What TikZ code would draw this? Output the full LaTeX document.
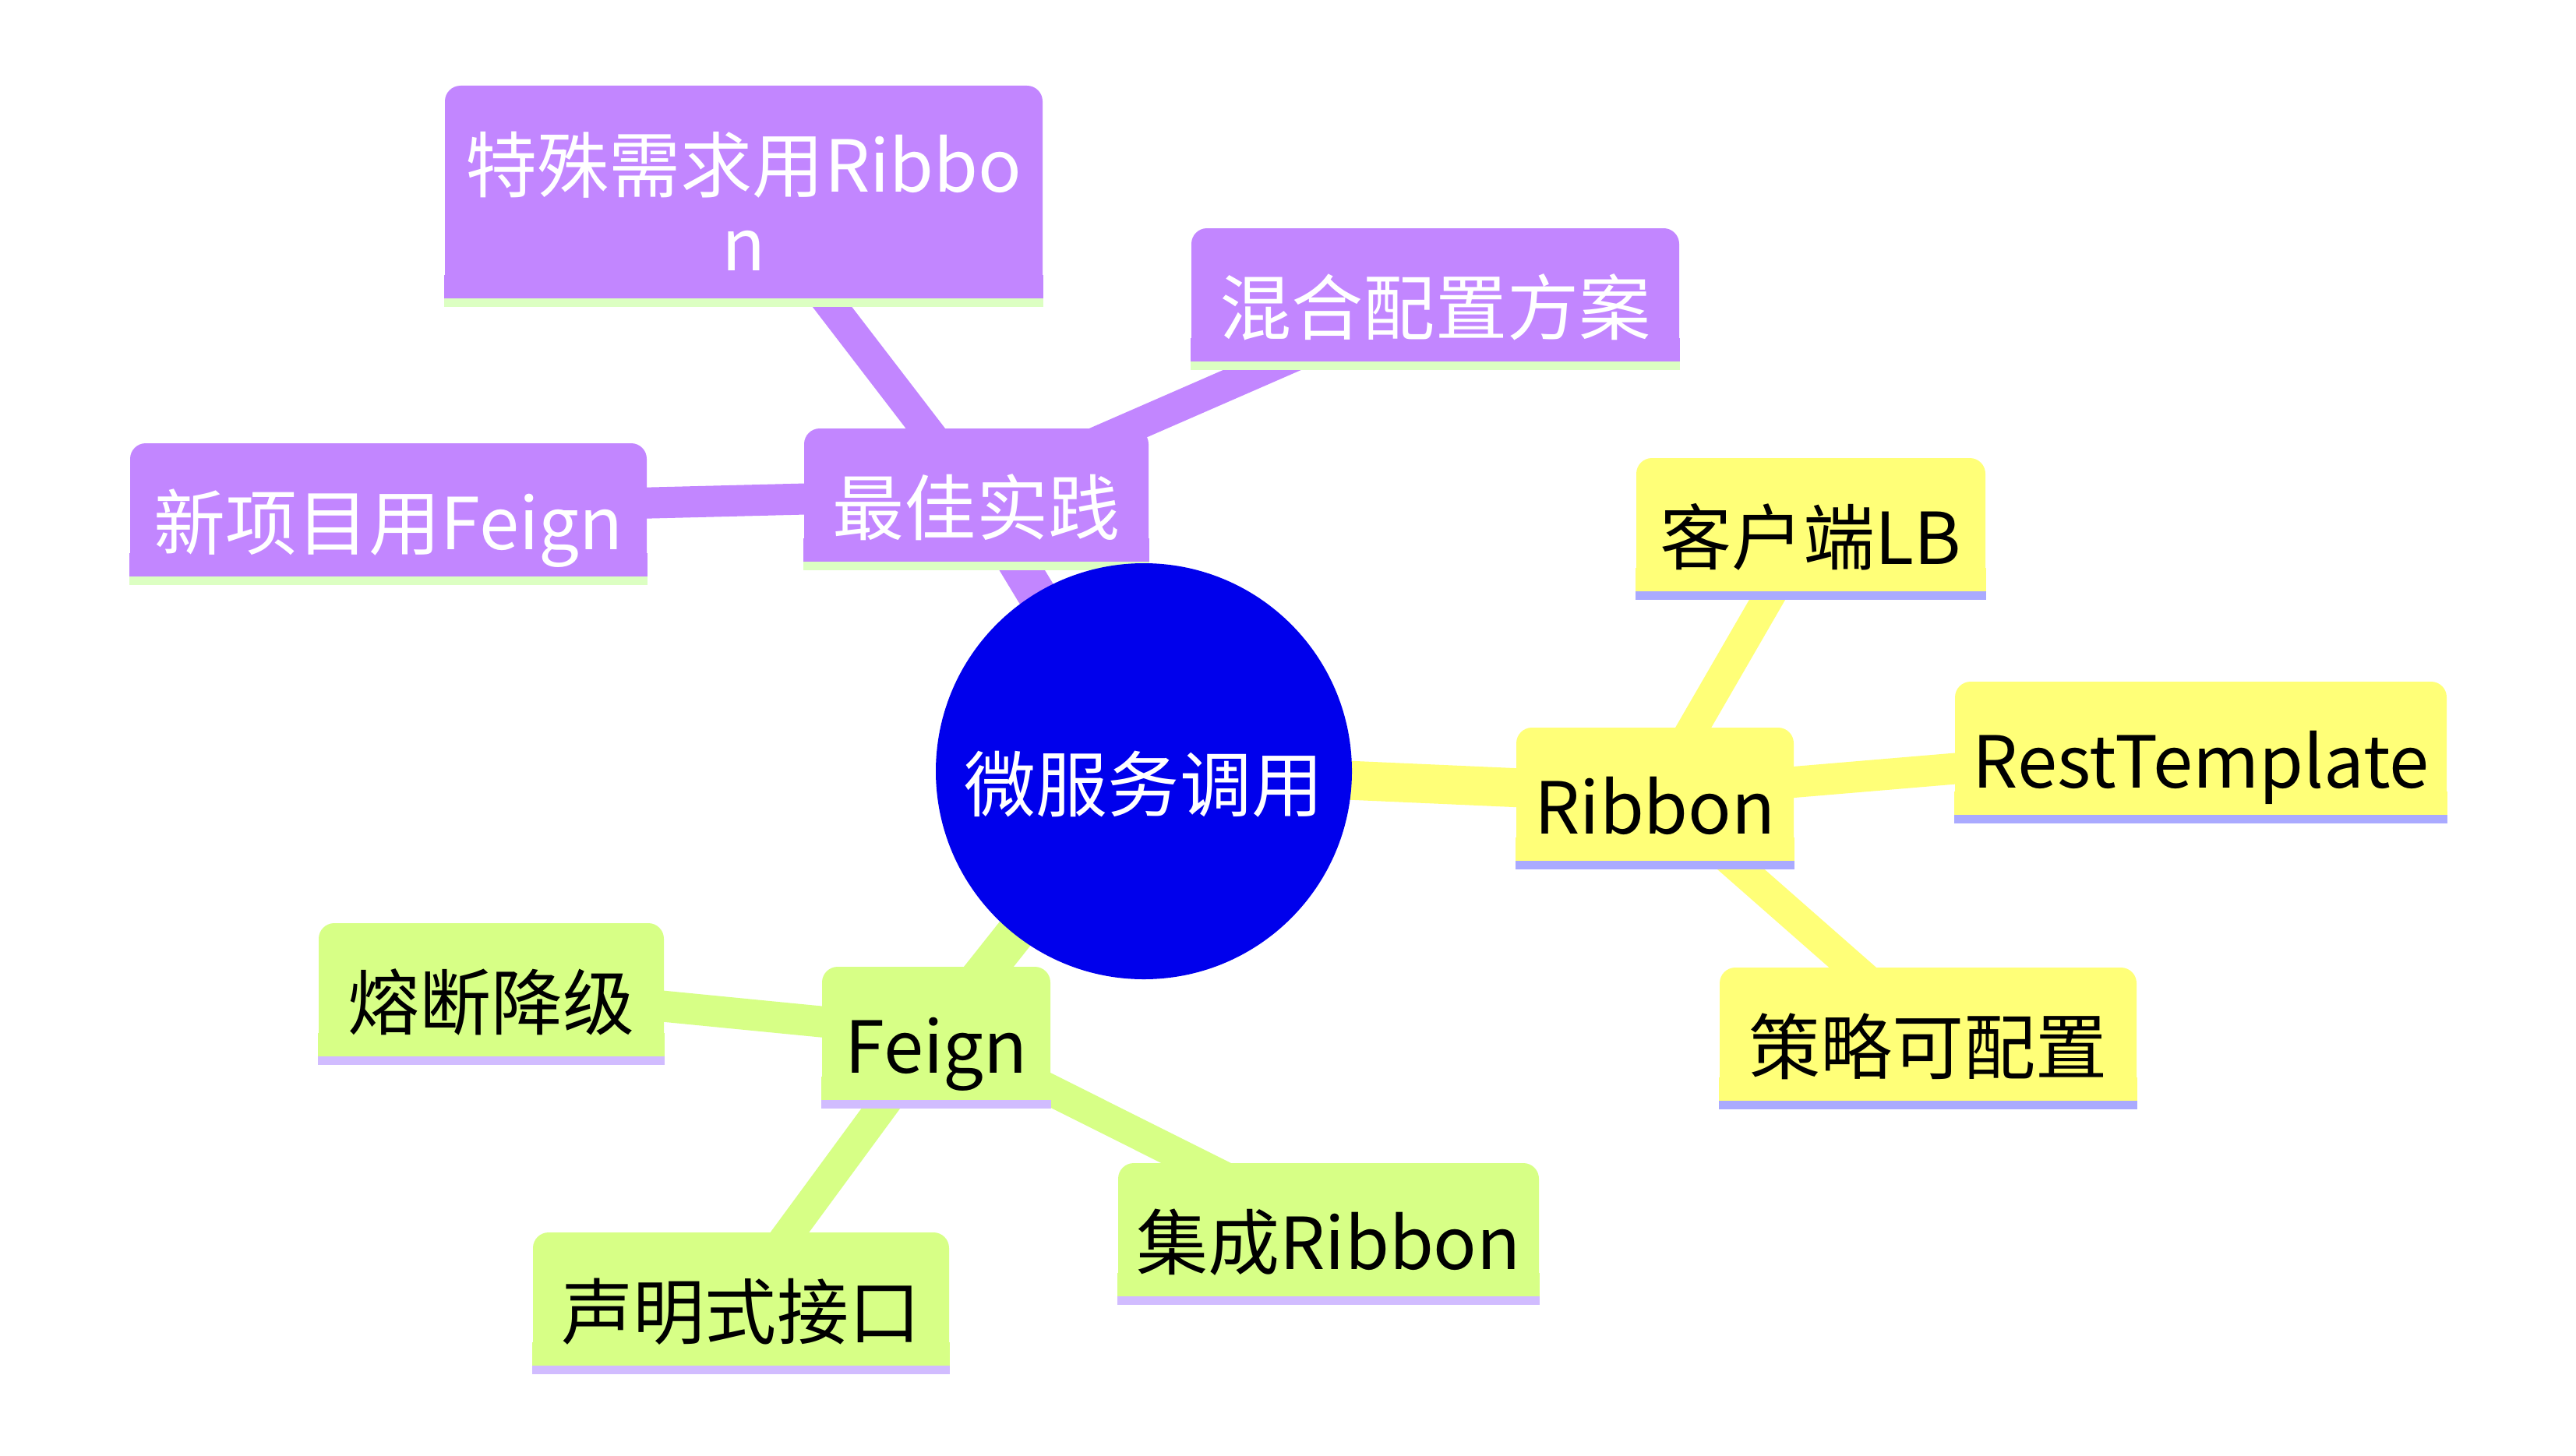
\documentclass[tikz,border=0pt]{standalone}
\usepackage{fontspec}
\setmainfont{Noto Sans CJK SC}
\pgfdeclarelayer{bg}
\pgfdeclarelayer{edges}
\pgfdeclarelayer{under}
\pgfsetlayers{bg,edges,under,main}
\definecolor{cRoot}{HTML}{0000EC}
\definecolor{cPurp}{HTML}{C286FF}
\definecolor{cYel}{HTML}{FFFF78}
\definecolor{cGrn}{HTML}{D7FF86}
\definecolor{uPurp}{HTML}{DCFFC2}
\definecolor{uYel}{HTML}{AAAAFF}
\definecolor{uGrn}{HTML}{D1BCFF}
\tikzset{
  mmfont/.style={font=\fontsize{26.2pt}{28.7pt}\selectfont},
  mmbase/.style={rectangle, rounded corners=0.2cm, inner sep=0pt, mmfont, minimum height=1.7cm},
  oneline/.style={text height=1.02cm, text depth=0cm},
  pbox/.style={mmbase, oneline, fill=cPurp, text=white},
  pboxtwo/.style={mmbase, align=center, fill=cPurp, text=white},
  ybox/.style={mmbase, oneline, fill=cYel, text=black},
  gbox/.style={mmbase, oneline, fill=cGrn, text=black},
  rootnode/.style={circle, inner sep=0pt, minimum size=5.34cm, fill=cRoot, text=white, mmfont, oneline},
  rootedge/.style={line width=0.5cm},
  childedge/.style={line width=0.4cm},
}
\begin{document}
\begin{tikzpicture}
\begin{pgfonlayer}{bg}
\fill[white] (0,0) rectangle (33.06,-18.68);
\end{pgfonlayer}
\useasboundingbox (0,0) rectangle (33.06,-18.68);
\node[rootnode] (root) at (14.68,-9.90) {微服务调用};
\node[pbox, minimum width=4.42cm] (bp) at (12.53,-6.35) {最佳实践};
\node[pboxtwo, minimum width=7.67cm, minimum height=2.72cm] (sp) at (9.545,-2.46) {\rule{0pt}{1.02cm}特殊需求用Ribbo\\n};
\node[pbox, minimum width=6.63cm] (np) at (4.985,-6.54) {新项目用Feign};
\node[pbox, minimum width=6.26cm] (hp) at (18.42,-3.78) {混合配置方案};
\node[ybox, minimum width=3.56cm] (rb) at (21.24,-10.19) {Ribbon};
\node[ybox, minimum width=4.48cm] (kh) at (23.24,-6.73) {客户端LB};
\node[ybox, minimum width=6.31cm] (rt) at (28.245,-9.60) {RestTemplate};
\node[ybox, minimum width=5.35cm] (cl) at (24.745,-13.27) {策略可配置};
\node[gbox, minimum width=4.43cm] (rd) at (6.305,-12.70) {熔断降级};
\node[gbox, minimum width=2.93cm] (fg) at (12.015,-13.26) {Feign};
\node[gbox, minimum width=5.34cm] (sm) at (9.51,-16.67) {声明式接口};
\node[gbox, minimum width=5.40cm] (jc) at (17.05,-15.78) {集成Ribbon};
\begin{pgfonlayer}{under}
\foreach \nm/\cf/\cu in {bp/cPurp/uPurp, sp/cPurp/uPurp, np/cPurp/uPurp, hp/cPurp/uPurp,
  rb/cYel/uYel, kh/cYel/uYel, rt/cYel/uYel, cl/cYel/uYel,
  rd/cGrn/uGrn, fg/cGrn/uGrn, sm/cGrn/uGrn, jc/cGrn/uGrn}{
  \fill[\cf] ([yshift=0.3cm]\nm.south west) rectangle (\nm.south east);
  \fill[\cu] (\nm.south west) rectangle ([yshift=-0.11cm]\nm.south east);
}
\end{pgfonlayer}
\begin{pgfonlayer}{edges}
\draw[rootedge, cPurp] (root.center) -- (bp.center);
\draw[rootedge, cYel] (root.center) -- (rb.center);
\draw[rootedge, cGrn] (root.center) -- (fg.center);
\draw[childedge, cPurp] (bp.center) -- (sp.center);
\draw[childedge, cPurp] (bp.center) -- (np.center);
\draw[childedge, cPurp] (bp.center) -- (hp.center);
\draw[childedge, cYel] (rb.center) -- (kh.center);
\draw[childedge, cYel] (rb.center) -- (rt.center);
\draw[childedge, cYel] (rb.center) -- (cl.center);
\draw[childedge, cGrn] (fg.center) -- (rd.center);
\draw[childedge, cGrn] (fg.center) -- (sm.center);
\draw[childedge, cGrn] (fg.center) -- (jc.center);
\end{pgfonlayer}
\end{tikzpicture}
\end{document}
